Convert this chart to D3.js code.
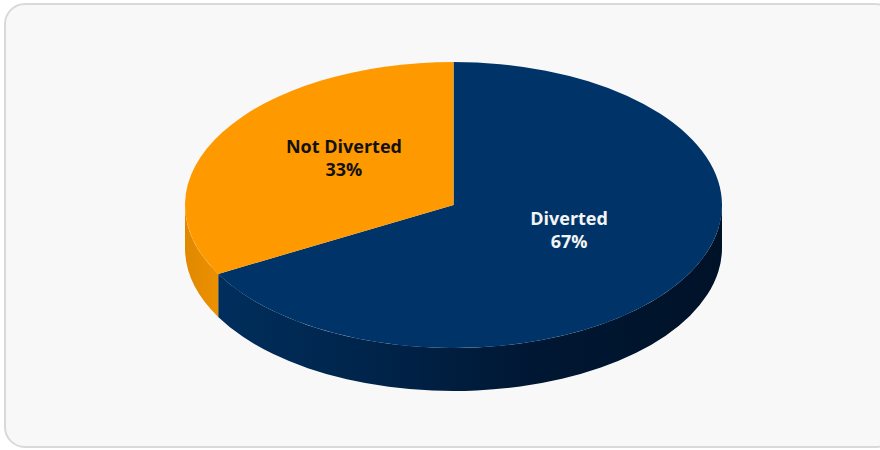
<!DOCTYPE html>
<html><head><meta charset="utf-8">
<script src="https://cdn.jsdelivr.net/npm/d3@7"></script>
<style>html,body{margin:0;padding:0;background:#fff;}svg{display:block;}</style>
</head><body>
<svg id="chart" width="880" height="450"></svg>
<script>
const categories = ["Diverted", "Not Diverted"];
const values = [67, 33];
const labels = ["67%", "33%"];
const topColors = ["#003468", "#FF9900"];
const textColors = ["#f4f4f4", "#111111"];

const W = 880, H = 450;
const svg = d3.select("#chart");

// panel
svg.append("rect").attr("x", 5).attr("y", 4).attr("width", 890).attr("height", 443)
  .attr("rx", 20).attr("ry", 20).attr("fill", "#f8f8f8").attr("stroke", "#d9d9d9").attr("stroke-width", 2);

const cx = 453.5, cy = 205, rx = 268.5, ry = 143, depth = 43;

const defs = svg.append("defs");
const gB = defs.append("linearGradient").attr("id", "sideB").attr("gradientUnits", "userSpaceOnUse")
  .attr("x1", cx - rx).attr("x2", cx + rx).attr("y1", 0).attr("y2", 0);
gB.append("stop").attr("offset", "0").attr("stop-color", "#003060");
gB.append("stop").attr("offset", "0.35").attr("stop-color", "#00244a");
gB.append("stop").attr("offset", "0.65").attr("stop-color", "#001733");
gB.append("stop").attr("offset", "1").attr("stop-color", "#001228");
const gO = defs.append("linearGradient").attr("id", "sideO").attr("gradientUnits", "userSpaceOnUse")
  .attr("x1", cx - rx).attr("x2", cx - rx + 40).attr("y1", 0).attr("y2", 0);
gO.append("stop").attr("offset", "0").attr("stop-color", "#e08800");
gO.append("stop").attr("offset", "1").attr("stop-color", "#ee9200");
const sideFills = ["url(#sideB)", "url(#sideO)"];

const pie = d3.pie().sort(null).value(d => d).startAngle(0).endAngle(2 * Math.PI);
const arcs = pie(values);

const px = (a, dy = 0) => [cx + rx * Math.sin(a), cy - ry * Math.cos(a) + dy];

function topPath(d) {
  const p0 = px(d.startAngle), p1 = px(d.endAngle);
  const large = (d.endAngle - d.startAngle) > Math.PI ? 1 : 0;
  return `M${cx},${cy}L${p0[0]},${p0[1]}A${rx},${ry} 0 ${large} 1 ${p1[0]},${p1[1]}Z`;
}
function sidePath(d) {
  const a0 = Math.max(d.startAngle, Math.PI / 2), a1 = Math.min(d.endAngle, 3 * Math.PI / 2);
  if (a1 <= a0) return null;
  const t0 = px(a0), t1 = px(a1), b0 = px(a0, depth), b1 = px(a1, depth);
  return `M${t0[0]},${t0[1]}A${rx},${ry} 0 0 1 ${t1[0]},${t1[1]}L${b1[0]},${b1[1]}A${rx},${ry} 0 0 0 ${b0[0]},${b0[1]}Z`;
}

const g = svg.append("g");
arcs.forEach((d, i) => {
  const sp = sidePath(d);
  if (sp) g.append("path").attr("d", sp).attr("fill", sideFills[i]);
});
arcs.forEach((d, i) => {
  g.append("path").attr("d", topPath(d)).attr("fill", topColors[i]);
});

arcs.forEach((d, i) => {
  const m = (d.startAngle + d.endAngle) / 2;
  const lx = cx + rx * 0.5 * Math.sin(m) + (i === 1 ? 6 : 0);
  const ly = cy - ry * 0.5 * Math.cos(m) - 10;
  const t = g.append("text").attr("text-anchor", "middle")
    .attr("font-family", "'Open Sans', sans-serif").attr("font-weight", "bold")
    .attr("font-size", 18).attr("fill", textColors[i]);
  t.append("tspan").attr("x", lx).attr("y", ly - 6).text(categories[i]);
  t.append("tspan").attr("x", lx).attr("y", ly + 17).text(labels[i]);
});
</script>
</body></html>
